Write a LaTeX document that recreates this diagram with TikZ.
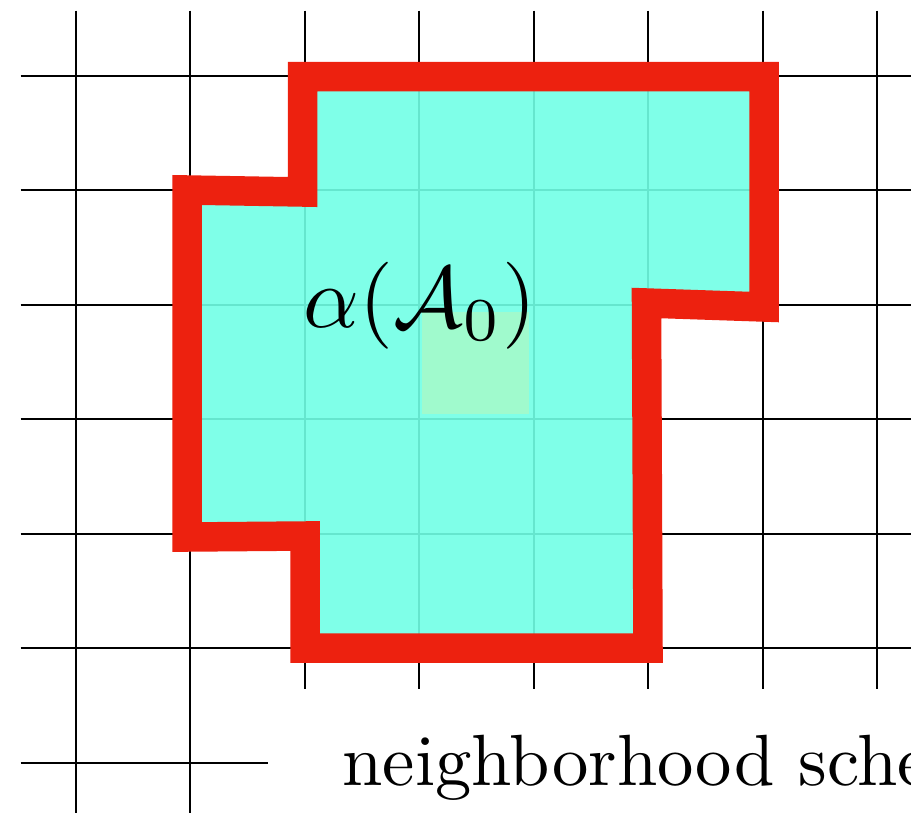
\documentclass[tikz,border=0pt]{standalone}
\definecolor{cyanfill}{RGB}{113,255,229}
\definecolor{borderred}{RGB}{237,33,15}
\definecolor{seedgreen}{RGB}{160,250,205}
\begin{document}
\begin{tikzpicture}[x=1pt,y=-1pt,
  gridline/.style={line width=2pt,black},
  regionfill/.style={fill=cyanfill,fill opacity=0.9},
  border/.style={draw=borderred,line width=29.5pt,line join=miter},
  seedcell/.style={fill=seedgreen,draw=none},
  bigmath/.style={anchor=base west,inner sep=0pt,font=\fontsize{10}{12}\selectfont,scale=8.7},
  captiontext/.style={anchor=base west,inner sep=0pt,font=\fontsize{10}{12}\selectfont,scale=7.26},
]
\useasboundingbox (0,0) rectangle (911,812);
\clip (0,0) rectangle (911,812);
% grid
\foreach \k in {0,1} \draw[gridline] ({75.7+114.47*\k},10.7) -- ({75.7+114.47*\k},830);
\foreach \k in {2,...,7} \draw[gridline] ({75.7+114.47*\k},10.7) -- ({75.7+114.47*\k},689.3);
\foreach \j in {0,...,5} \draw[gridline] (20.7,{75.7+114.47*\j}) -- (930,{75.7+114.47*\j});
\draw[gridline] (20.7,762.5) -- (268.3,762.5);
% region
\coordinate (A) at (302.5,76.5);
\coordinate (B) at (764,76.5);
\coordinate (C) at (764,307);
\coordinate (D) at (646.5,303);
\coordinate (E) at (648,648);
\coordinate (F) at (305,648);
\coordinate (G) at (305,536);
\coordinate (H) at (187,537);
\coordinate (I) at (187,190);
\coordinate (J) at (302.5,192);
\path[regionfill] (A) -- (B) -- (C) -- (D) -- (E) -- (F) -- (G) -- (H) -- (I) -- (J) -- cycle;
\fill[seedcell] (421.7,311.7) rectangle (529.3,414);
\draw[border] (A) -- (B) -- (C) -- (D) -- (E) -- (F) -- (G) -- (H) -- (I) -- (J) -- cycle;
% labels
\node[bigmath] (label) at (302,327) {$\alpha(\mathcal{A}_0)$};
\node[captiontext] (caption) at (341,785) {neighborhood scheme};
\end{tikzpicture}
\end{document}
